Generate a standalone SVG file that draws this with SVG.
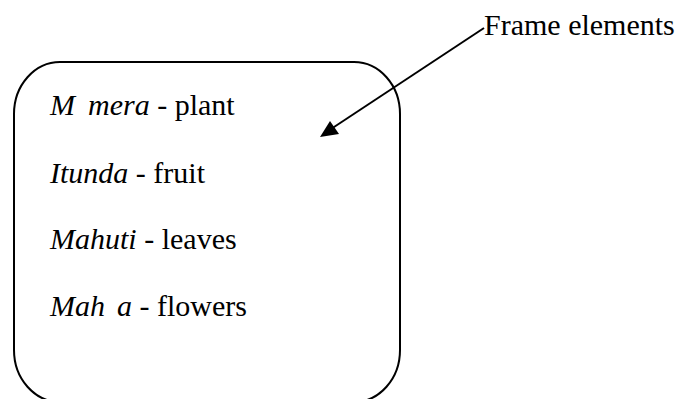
<svg xmlns="http://www.w3.org/2000/svg" width="689" height="399" viewBox="0 0 689 399">
<style>
text{font-family:"Liberation Serif","Times New Roman",serif;font-size:30px;fill:#000}
.i{font-style:italic}
.box{fill:none;stroke:#000;stroke-width:2}
.conn{stroke:#000;stroke-width:2;fill:none}
</style>
<rect width="689" height="399" fill="#fff"/>
<g id="frame">
<rect class="box" x="14" y="62" width="386" height="340" rx="46" ry="52"/>
<text x="50" y="115"><tspan class="i">M</tspan><tspan class="i" x="88">mera</tspan> - plant</text>
<text x="50" y="183"><tspan class="i">Itunda</tspan> - fruit</text>
<text x="50" y="249"><tspan class="i">Mahuti</tspan> - leaves</text>
<text x="50" y="316"><tspan class="i">Mah</tspan><tspan class="i" x="117">a</tspan> - flowers</text>
</g>
<g id="label">
<text x="484" y="35">Frame elements</text>
</g>
<g id="connectors">
<line class="conn" x1="484" y1="28" x2="328" y2="131"/>
<path d="M320,137 L330,121 L339,134 z" fill="#000"/>
</g>
</svg>
